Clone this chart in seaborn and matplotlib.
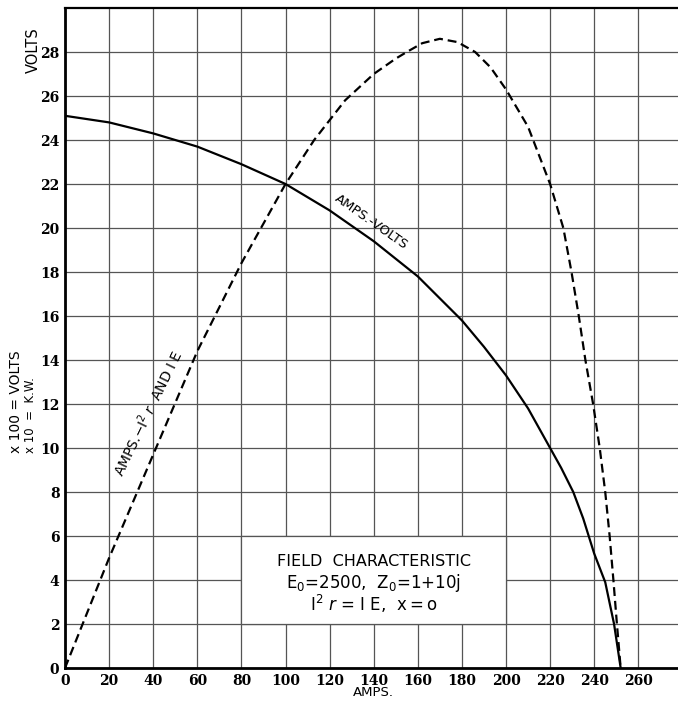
import matplotlib
matplotlib.use("Agg")
import matplotlib.pyplot as plt
import matplotlib.patches as mpatches
import pandas as pd
import seaborn as sns

# amps - volts (solid curve)
volts_amps = [0, 20, 40, 60, 80, 100, 120, 140, 160, 180, 190, 200, 210,
              220, 225, 230.5, 235, 240, 245, 249, 252]
volts_vals = [25.1, 24.8, 24.3, 23.7, 22.9, 22.0, 20.8, 19.4, 17.8, 15.8,
              14.6, 13.3, 11.8, 10.0, 9.1, 8.0, 6.8, 5.2, 3.9, 2.0, 0.0]

# amps - I^2 r and I E (dashed curve)
power_amps = [0, 20, 40, 60, 80, 100, 113, 127, 140, 150, 155, 162, 170,
              178, 186, 193, 200, 210, 220, 226, 229.7, 233, 236, 239.5,
              242.5, 245, 247, 248.7, 250.3, 252]
power_vals = [0.0, 5.0, 9.7, 14.4, 18.4, 22.0, 24.0, 25.8, 27.0, 27.7, 28.0,
              28.4, 28.6, 28.45, 28.0, 27.3, 26.3, 24.6, 22.0, 20.0, 18.0,
              16.0, 14.0, 12.0, 10.0, 8.0, 6.0, 4.0, 2.0, 0.0]

x_ticks = list(range(0, 261, 20))
y_ticks = list(range(0, 29, 2))

sns.set_theme(style="white")
plt.rcParams["font.family"] = ["DejaVu Sans"]
plt.rcParams["text.color"] = "black"
plt.rcParams["xtick.color"] = "black"
plt.rcParams["ytick.color"] = "black"

fig = plt.figure(figsize=(6.78, 7.02), dpi=100)
ax = fig.add_axes([65 / 678, 34 / 702, 613 / 678, 660 / 702])

df_v = pd.DataFrame({"amps": volts_amps, "volts": volts_vals})
df_p = pd.DataFrame({"amps": power_amps, "volts": power_vals})

sns.lineplot(data=df_v, x="amps", y="volts", color="black", linewidth=1.6,
             sort=False, ax=ax, zorder=3)
sns.lineplot(data=df_p, x="amps", y="volts", color="black", linewidth=1.6,
             sort=False, ax=ax, zorder=3)
ax.lines[1].set_dashes((4, 2.2))

ax.set_xlim(0, 278)
ax.set_ylim(0, 30)
ax.set_xticks(x_ticks)
ax.set_yticks(y_ticks)
ax.set_xlabel("")
ax.set_ylabel("")
ax.set_axisbelow(True)
ax.grid(True, color="#555555", linewidth=0.9)

for lab in ax.get_xticklabels() + ax.get_yticklabels():
    lab.set_family("DejaVu Serif")
    lab.set_weight("bold")
    lab.set_fontsize(10)
ax.tick_params(length=0, pad=4)

for side in ["left", "bottom"]:
    ax.spines[side].set_linewidth(2.0)
    ax.spines[side].set_color("black")
ax.spines["top"].set_linewidth(1.6)
ax.spines["top"].set_color("black")
ax.spines["right"].set_visible(False)

# white box behind the caption
box = mpatches.Rectangle((80, 2), 120, 4, facecolor="white",
                         edgecolor="#555555", linewidth=0.9, zorder=1)
ax.add_patch(box)

ax.text(140, 4.85, "FIELD  CHARACTERISTIC", ha="center", va="center",
        fontsize=11.5, zorder=4)
ax.text(140, 3.85, r"E$_0$=2500,  Z$_0$=1+10j", ha="center", va="center",
        fontsize=12, zorder=4)
ax.text(140, 2.9, r"I$^2$ $r$ = I E,  $\mathregular{x = o}$", ha="center",
        va="center", fontsize=12, zorder=4)

# curve labels
ax.text(139, 20.3, "AMPS.-VOLTS", rotation=-35, ha="center", va="center",
        fontsize=9.5, rotation_mode="anchor")
ax.text(37.5, 11.6, r"AMPS.$-$I$^2$ $r$  AND I E", rotation=64, ha="center",
        va="center", fontsize=10, rotation_mode="anchor")

# axis captions
fig.text(33 / 678, 1 - 50 / 702, "VOLTS", rotation=90, ha="center",
         va="center", fontsize=10.5)
fig.text(16 / 678, 1 - 453 / 702, "x 100 = VOLTS", rotation=90, ha="center",
         va="bottom", fontsize=10)
fig.text(31 / 678, 1 - 453 / 702, "x 10  =  K.W.", rotation=90, ha="center",
         va="bottom", fontsize=8.5)
fig.text(373 / 678, 1 - 693 / 702, "AMPS.", ha="center", va="center",
         fontsize=9.5)

fig.savefig("out.png", dpi=100)
